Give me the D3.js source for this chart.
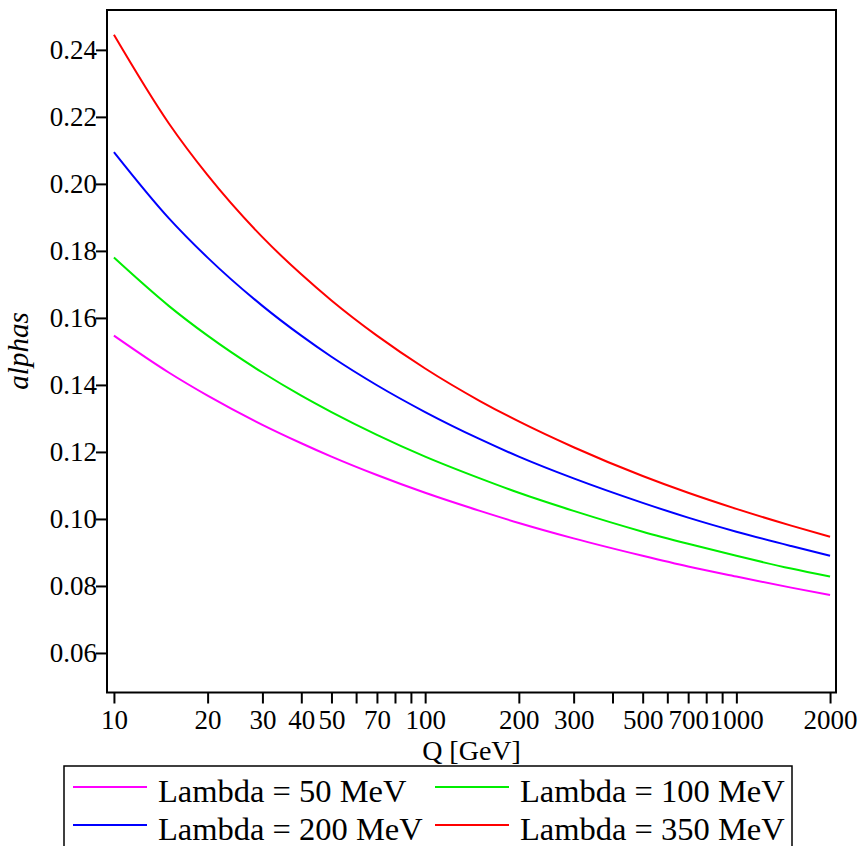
<!DOCTYPE html>
<html lang="en">
<head>
    <meta charset="UTF-8">
    <title>alphas vs Q</title>
    <style>
        html, body {
            margin: 0;
            padding: 0;
            background-color: #fff;
            font-family: 'Liberation Serif', 'Times New Roman', serif;
        }
        svg text {
            fill: #000;
            font-family: 'Liberation Serif', 'Times New Roman', serif;
        }
    </style>
</head>
<body>
    <div id="graph"></div>
    <script src="https://d3js.org/d3.v7.min.js"></script>
    <script>
        // DATA
        const qValues = [10, 15, 20, 30, 40, 50, 70, 100, 150, 200, 300, 500, 700, 1000, 1500, 2000];
        const lambda50  = [0.1547, 0.1437, 0.1368, 0.1281, 0.1226, 0.1186, 0.1131, 0.1078, 0.1024, 0.0988, 0.0942, 0.0890, 0.0858, 0.0828, 0.0795, 0.0773];
        const lambda100 = [0.1780, 0.1636, 0.1547, 0.1437, 0.1368, 0.1319, 0.1251, 0.1186, 0.1121, 0.1078, 0.1024, 0.0962, 0.0926, 0.0890, 0.0852, 0.0828];
        const lambda200 = [0.2095, 0.1898, 0.1780, 0.1636, 0.1547, 0.1484, 0.1399, 0.1319, 0.1238, 0.1186, 0.1121, 0.1048, 0.1004, 0.0962, 0.0919, 0.0890];
        const lambda350 = [0.2445, 0.2181, 0.2026, 0.1841, 0.1730, 0.1652, 0.1547, 0.1449, 0.1352, 0.1291, 0.1214, 0.1128, 0.1078, 0.1030, 0.0980, 0.0947];
        const seriesNames = ["Lambda = 50 MeV", "Lambda = 100 MeV", "Lambda = 200 MeV", "Lambda = 350 MeV"];
        const seriesColors = ["#ff00ff", "#00ee00", "#0000ff", "#ff0000"];
        const xTicks = [10, 20, 30, 40, 50, 60, 70, 80, 90, 100, 200, 300, 400, 500, 600, 700, 800, 900, 1000, 2000];
        const xLabelled = [10, 20, 30, 40, 50, 70, 100, 200, 300, 500, 700, 1000, 2000];
        const yTicks = [0.06, 0.08, 0.10, 0.12, 0.14, 0.16, 0.18, 0.20, 0.22, 0.24];

        const allSeries = [lambda50, lambda100, lambda200, lambda350];

        const W = 862, H = 846;
        const plotL = 107, plotR = 836, plotT = 10, plotB = 692.5;
        const serif = "Liberation Serif, Times New Roman, serif";

        const svg = d3.select("#graph")
            .append("svg")
            .attr("width", W)
            .attr("height", H);

        // SCALES
        const x = d3.scaleLog()
            .domain([9.5, 2090])
            .range([plotL, plotR]);
        const y = d3.scaleLinear()
            .domain([0.0482, 0.2519])
            .range([plotB, plotT]);

        // CURVES
        const line = d3.line()
            .x(d => x(d[0]))
            .y(d => y(d[1]))
            .curve(d3.curveMonotoneX);

        svg.append("g")
            .selectAll("path")
            .data(allSeries)
            .enter()
            .append("path")
            .attr("d", vals => line(vals.map((v, i) => [qValues[i], v])))
            .attr("fill", "none")
            .attr("stroke", (d, i) => seriesColors[i])
            .attr("stroke-width", 2);

        // X AXIS
        const xAxis = d3.axisBottom(x)
            .tickValues(xTicks)
            .tickSize(11)
            .tickPadding(6)
            .tickFormat(d => xLabelled.includes(d) ? d : "");
        const gx = svg.append("g")
            .attr("transform", `translate(0, ${plotB})`)
            .call(xAxis)
            .attr("font-family", serif)
            .attr("font-size", 27);
        gx.select(".domain").remove();
        gx.selectAll(".tick line").attr("stroke", "#000").attr("stroke-width", 2);

        // Y AXIS
        const yAxis = d3.axisLeft(y)
            .tickValues(yTicks)
            .tickSize(11)
            .tickPadding(-1)
            .tickFormat(d3.format(".2f"));
        const gy = svg.append("g")
            .attr("transform", `translate(${plotL}, 0)`)
            .call(yAxis)
            .attr("font-family", serif)
            .attr("font-size", 27);
        gy.select(".domain").remove();
        gy.selectAll(".tick line").attr("stroke", "#000").attr("stroke-width", 2);

        // FRAME
        svg.append("rect")
            .attr("x", plotL)
            .attr("y", plotT)
            .attr("width", plotR - plotL)
            .attr("height", plotB - plotT)
            .attr("fill", "none")
            .attr("stroke", "#000")
            .attr("stroke-width", 2);

        // AXIS LABELS
        svg.append("text")
            .attr("x", (plotL + plotR) / 2)
            .attr("y", 760)
            .attr("text-anchor", "middle")
            .style("font-size", "28px")
            .text("Q [GeV]");

        svg.append("text")
            .attr("transform", "translate(28, 351) rotate(-90)")
            .attr("text-anchor", "middle")
            .style("font-size", "29px")
            .style("font-style", "italic")
            .text("alphas");

        // LEGEND
        const legend = svg.append("g");
        legend.append("rect")
            .attr("x", 64)
            .attr("y", 766)
            .attr("width", 728)
            .attr("height", 100)
            .attr("fill", "none")
            .attr("stroke", "#000")
            .attr("stroke-width", 1.5);

        const legendPos = [
            {lx: 73, ly: 787},
            {lx: 435, ly: 787},
            {lx: 73, ly: 825},
            {lx: 435, ly: 825}
        ];

        const items = legend.selectAll("g.item")
            .data(seriesNames)
            .enter()
            .append("g")
            .attr("class", "item")
            .attr("transform", (d, i) => `translate(${legendPos[i].lx}, ${legendPos[i].ly})`);

        items.append("line")
            .attr("x1", 0)
            .attr("x2", 74)
            .attr("y1", 0)
            .attr("y2", 0)
            .attr("stroke", (d, i) => seriesColors[i])
            .attr("stroke-width", 2);

        items.append("text")
            .attr("x", 85)
            .attr("y", 14.5)
            .style("font-size", "32.5px")
            .text(d => d);
    </script>
</body>
</html>
